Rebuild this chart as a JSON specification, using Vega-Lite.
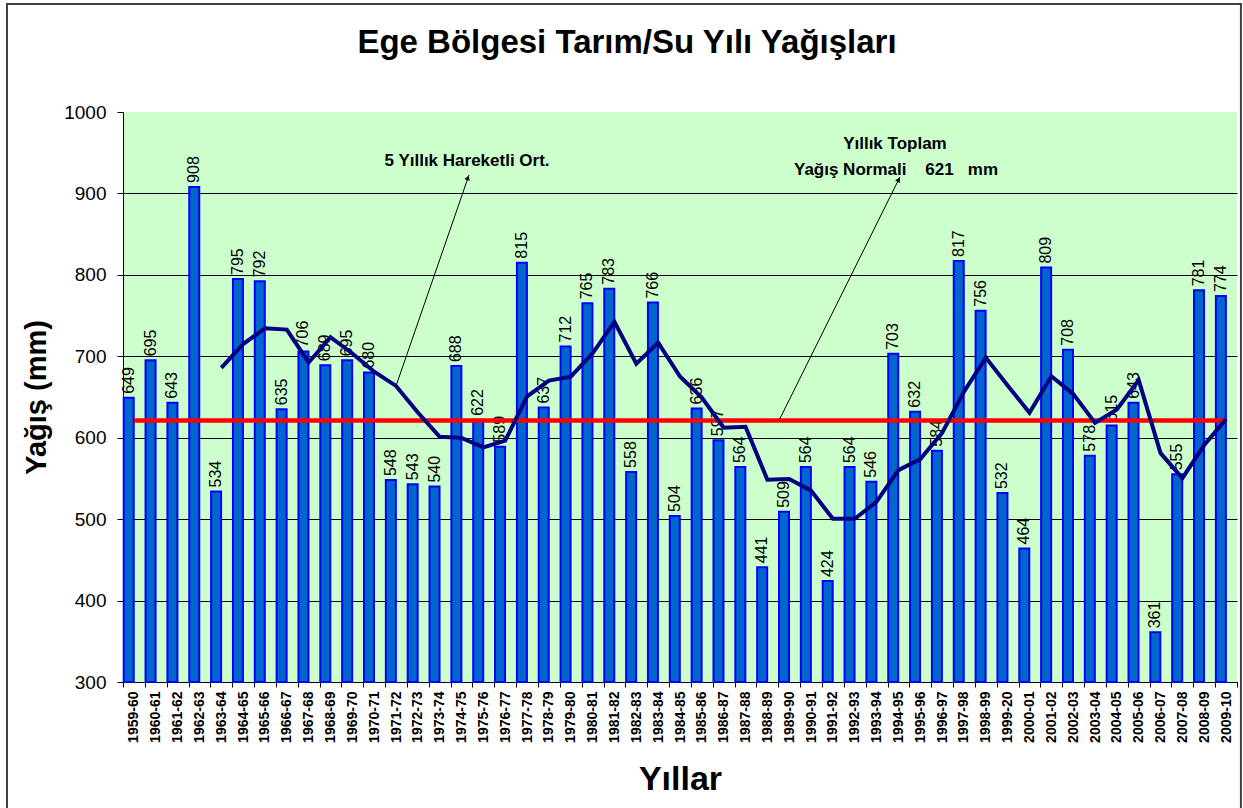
{
  "$schema": "https://vega.github.io/schema/vega-lite/v6.json",
  "width": 1114,
  "height": 570,
  "autosize": {"type": "none"},
  "padding": {"left": 123, "top": 112, "right": 6, "bottom": 126},
  "background": "white",
  "title": {"text": "Ege Bölgesi Tarım/Su Yılı Yağışları", "font": "Liberation Sans", "fontSize": 33, "fontWeight": "bold", "color": "black", "anchor": "middle", "frame": "group", "dx": -53, "baseline": "bottom", "offset": -90},
  "config": {"view": {"fill": "#CCFFCC", "stroke": null}, "font": "Liberation Sans"},
  "datasets": {
    "rain": [
      {"yil": "1959-60", "yagis": 649, "ort": null, "normal": 621},
      {"yil": "1960-61", "yagis": 695, "ort": null, "normal": 621},
      {"yil": "1961-62", "yagis": 643, "ort": null, "normal": 621},
      {"yil": "1962-63", "yagis": 908, "ort": null, "normal": 621},
      {"yil": "1963-64", "yagis": 534, "ort": 685.8, "normal": 621},
      {"yil": "1964-65", "yagis": 795, "ort": 715.0, "normal": 621},
      {"yil": "1965-66", "yagis": 792, "ort": 734.4, "normal": 621},
      {"yil": "1966-67", "yagis": 635, "ort": 732.8, "normal": 621},
      {"yil": "1967-68", "yagis": 706, "ort": 692.4, "normal": 621},
      {"yil": "1968-69", "yagis": 689, "ort": 723.4, "normal": 621},
      {"yil": "1969-70", "yagis": 695, "ort": 703.4, "normal": 621},
      {"yil": "1970-71", "yagis": 680, "ort": 681.0, "normal": 621},
      {"yil": "1971-72", "yagis": 548, "ort": 663.6, "normal": 621},
      {"yil": "1972-73", "yagis": 543, "ort": 631.0, "normal": 621},
      {"yil": "1973-74", "yagis": 540, "ort": 601.2, "normal": 621},
      {"yil": "1974-75", "yagis": 688, "ort": 599.8, "normal": 621},
      {"yil": "1975-76", "yagis": 622, "ort": 588.2, "normal": 621},
      {"yil": "1976-77", "yagis": 589, "ort": 596.4, "normal": 621},
      {"yil": "1977-78", "yagis": 815, "ort": 650.8, "normal": 621},
      {"yil": "1978-79", "yagis": 637, "ort": 670.2, "normal": 621},
      {"yil": "1979-80", "yagis": 712, "ort": 675.0, "normal": 621},
      {"yil": "1980-81", "yagis": 765, "ort": 703.6, "normal": 621},
      {"yil": "1981-82", "yagis": 783, "ort": 742.4, "normal": 621},
      {"yil": "1982-83", "yagis": 558, "ort": 691.0, "normal": 621},
      {"yil": "1983-84", "yagis": 766, "ort": 716.8, "normal": 621},
      {"yil": "1984-85", "yagis": 504, "ort": 675.2, "normal": 621},
      {"yil": "1985-86", "yagis": 636, "ort": 649.4, "normal": 621},
      {"yil": "1986-87", "yagis": 597, "ort": 612.2, "normal": 621},
      {"yil": "1987-88", "yagis": 564, "ort": 613.4, "normal": 621},
      {"yil": "1988-89", "yagis": 441, "ort": 548.4, "normal": 621},
      {"yil": "1989-90", "yagis": 509, "ort": 549.4, "normal": 621},
      {"yil": "1990-91", "yagis": 564, "ort": 535.0, "normal": 621},
      {"yil": "1991-92", "yagis": 424, "ort": 500.4, "normal": 621},
      {"yil": "1992-93", "yagis": 564, "ort": 500.4, "normal": 621},
      {"yil": "1993-94", "yagis": 546, "ort": 521.4, "normal": 621},
      {"yil": "1994-95", "yagis": 703, "ort": 560.2, "normal": 621},
      {"yil": "1995-96", "yagis": 632, "ort": 573.8, "normal": 621},
      {"yil": "1996-97", "yagis": 584, "ort": 605.8, "normal": 621},
      {"yil": "1997-98", "yagis": 817, "ort": 656.4, "normal": 621},
      {"yil": "1998-99", "yagis": 756, "ort": 698.4, "normal": 621},
      {"yil": "1999-20", "yagis": 532, "ort": 664.2, "normal": 621},
      {"yil": "2000-01", "yagis": 464, "ort": 630.6, "normal": 621},
      {"yil": "2001-02", "yagis": 809, "ort": 675.6, "normal": 621},
      {"yil": "2002-03", "yagis": 708, "ort": 653.8, "normal": 621},
      {"yil": "2003-04", "yagis": 578, "ort": 618.2, "normal": 621},
      {"yil": "2004-05", "yagis": 615, "ort": 634.8, "normal": 621},
      {"yil": "2005-06", "yagis": 643, "ort": 670.6, "normal": 621},
      {"yil": "2006-07", "yagis": 361, "ort": 581.0, "normal": 621},
      {"yil": "2007-08", "yagis": 555, "ort": 550.4, "normal": 621},
      {"yil": "2008-09", "yagis": 781, "ort": 591.0, "normal": 621},
      {"yil": "2009-10", "yagis": 774, "ort": 622.8, "normal": 621}
    ],
    "arrows": [
      {"id": "a", "x1": 12.5, "y1": 663.6, "x2": 15.84, "y2": 922.6, "hx": 15.79, "hy": 919.2},
      {"id": "b", "x1": 30.03, "y1": 621, "x2": 35.57, "y2": 920.2, "hx": 35.51, "hy": 916.9}
    ],
    "labels": [
      {"t": "5 Yıllık Hareketli Ort.", "x": 15.75, "y": 933.7},
      {"t": "Yıllık Toplam", "x": 35.34, "y": 954.0},
      {"t": "Yağış Normali\u00a0\u00a0\u00a0\u00a0621\u00a0\u00a0\u00a0mm", "x": 35.39, "y": 923.2}
    ],
    "frame": [
      {"x1": -5.31, "x2": 51.18, "y1": 1132.6, "y2": 136.7}
    ]
  },
  "layer": [
    {
      "data": {"name": "rain"},
      "encoding": {
        "x": {
          "field": "yil", "type": "ordinal", "sort": null,
          "scale": {"paddingInner": 0, "paddingOuter": 0},
          "axis": {"title": "Yıllar", "titleFontSize": 34, "titleFontWeight": "bold", "titleColor": "black", "titlePadding": 20,
                   "labelAngle": 270, "labelFontSize": 14, "labelFontWeight": "bold", "labelColor": "black", "labelPadding": 4,
                   "labelOverlap": false, "tickBand": "extent", "tickSize": 5, "tickColor": "black", "domainColor": "black", "grid": false}
        }
      },
      "layer": [
        {
          "mark": {"type": "bar", "width": 10, "xOffset": -5.2, "fill": "#0066CC", "stroke": "#0000FF", "strokeWidth": 2},
          "encoding": {
            "y": {"field": "yagis", "type": "quantitative", "title": "Yağış (mm)",
                  "scale": {"domain": [300, 1000], "nice": false, "zero": false},
                  "axis": {"values": [300, 400, 500, 600, 700, 800, 900, 1000], "format": "d", "titleFontSize": 29, "titleFontWeight": "bold", "titleColor": "black", "titlePadding": 12,
                           "labelFontSize": 19, "labelColor": "black", "labelPadding": 11, "tickSize": 6, "tickColor": "black",
                           "domainColor": "black", "gridColor": "black", "gridWidth": 1,
                           "gridOpacity": {"condition": {"test": "datum.value >= 1000", "value": 0}, "value": 1}}},
            "y2": {"datum": 300}
          }
        },
        {
          "mark": {"type": "text", "angle": 270, "align": "left", "baseline": "middle", "dx": 4, "xOffset": -5.2, "fontSize": 16, "color": "black"},
          "encoding": {
            "y": {"field": "yagis", "type": "quantitative", "title": "Yağış (mm)", "scale": {"domain": [300, 1000], "nice": false, "zero": false}},
            "text": {"field": "yagis", "type": "quantitative", "format": "d"}
          }
        },
        {
          "mark": {"type": "line", "color": "#FF0000", "strokeWidth": 4.5},
          "encoding": {
            "y": {"field": "normal", "type": "quantitative", "title": "Yağış (mm)", "scale": {"domain": [300, 1000], "nice": false, "zero": false}}
          }
        },
        {
          "mark": {"type": "line", "color": "#000080", "strokeWidth": 4},
          "encoding": {
            "y": {"field": "ort", "type": "quantitative", "title": "Yağış (mm)", "scale": {"domain": [300, 1000], "nice": false, "zero": false}}
          }
        }
      ]
    },
    {
      "layer": [
        {
          "data": {"name": "arrows"},
          "mark": {"type": "rule", "color": "black", "strokeWidth": 1},
          "encoding": {
            "x": {"field": "x1", "type": "quantitative", "scale": {"domain": [0, 51], "nice": false, "zero": false}, "axis": null},
            "x2": {"field": "x2"},
            "y": {"field": "y1", "type": "quantitative", "title": "Yağış (mm)", "scale": {"domain": [300, 1000], "nice": false, "zero": false}},
            "y2": {"field": "y2"}
          }
        },
        {
          "data": {"name": "arrows"},
          "transform": [{"filter": "datum.id == 'a'"}],
          "mark": {"type": "point", "shape": "triangle-up", "filled": true, "color": "black", "size": 30, "angle": 20, "opacity": 1},
          "encoding": {
            "x": {"field": "hx", "type": "quantitative", "scale": {"domain": [0, 51], "nice": false, "zero": false}, "axis": null},
            "y": {"field": "hy", "type": "quantitative", "title": "Yağış (mm)", "scale": {"domain": [300, 1000], "nice": false, "zero": false}}
          }
        },
        {
          "data": {"name": "arrows"},
          "transform": [{"filter": "datum.id == 'b'"}],
          "mark": {"type": "point", "shape": "triangle-up", "filled": true, "color": "black", "size": 30, "angle": 27, "opacity": 1},
          "encoding": {
            "x": {"field": "hx", "type": "quantitative", "scale": {"domain": [0, 51], "nice": false, "zero": false}, "axis": null},
            "y": {"field": "hy", "type": "quantitative", "title": "Yağış (mm)", "scale": {"domain": [300, 1000], "nice": false, "zero": false}}
          }
        },
        {
          "data": {"name": "labels"},
          "mark": {"type": "text", "fontSize": 17, "fontWeight": "bold", "align": "center", "baseline": "alphabetic", "color": "black"},
          "encoding": {
            "x": {"field": "x", "type": "quantitative", "scale": {"domain": [0, 51], "nice": false, "zero": false}, "axis": null},
            "y": {"field": "y", "type": "quantitative", "title": "Yağış (mm)", "scale": {"domain": [300, 1000], "nice": false, "zero": false}},
            "text": {"field": "t"}
          }
        },
        {
          "data": {"name": "frame"},
          "mark": {"type": "rect", "fill": null, "fillOpacity": 0, "stroke": "#404040", "strokeWidth": 2},
          "encoding": {
            "x": {"field": "x1", "type": "quantitative", "scale": {"domain": [0, 51], "nice": false, "zero": false}, "axis": null},
            "x2": {"field": "x2"},
            "y": {"field": "y1", "type": "quantitative", "title": "Yağış (mm)", "scale": {"domain": [300, 1000], "nice": false, "zero": false}},
            "y2": {"field": "y2"}
          }
        }
      ]
    }
  ],
  "resolve": {"scale": {"x": "independent"}, "axis": {"x": "independent"}}
}
